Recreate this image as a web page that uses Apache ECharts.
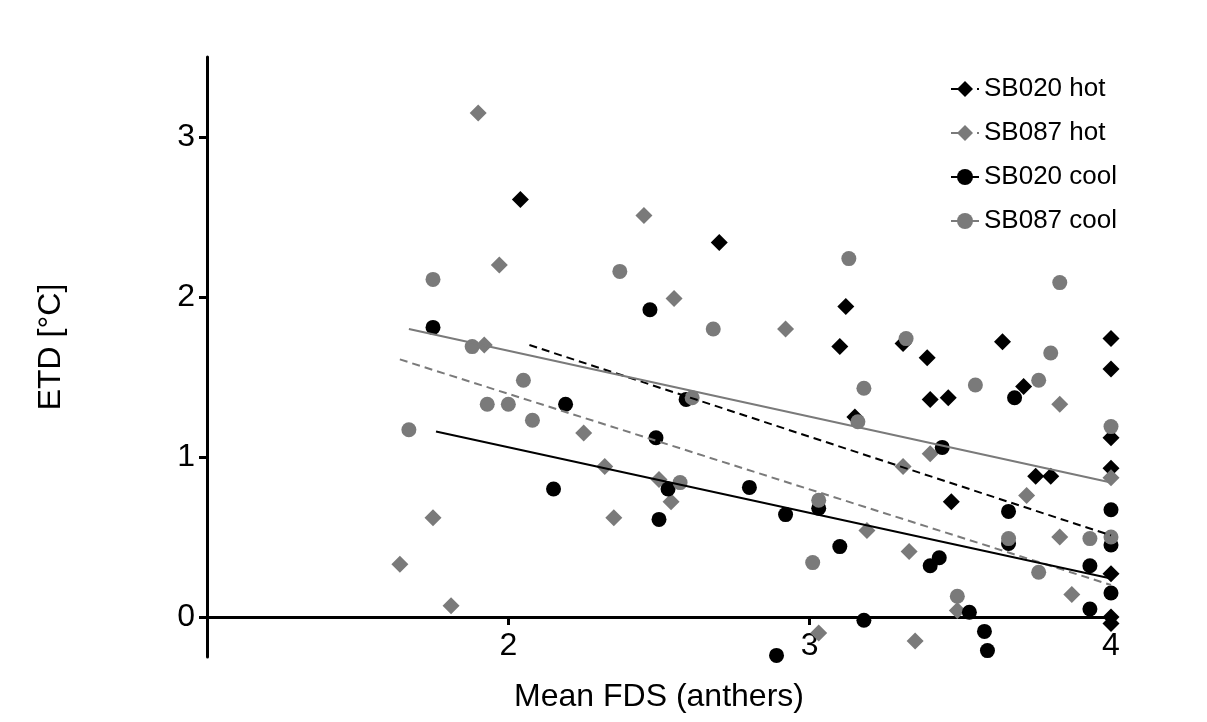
<!DOCTYPE html>
<html>
<head>
<meta charset="utf-8">
<title>ETD vs Mean FDS</title>
<style type="text/css">
    html, body { margin: 0; padding: 0; background: #fff; }
    #main { width: 1207px; height: 722px; }
</style>
</head>
<body>
<div id="main"></div>
<script src="https://cdn.jsdelivr.net/npm/echarts@6/dist/echarts.min.js"></script>
<script>
    // points: [Mean FDS, ETD]
    var sb020Hot = [
        [2.04, 2.61], [2.70, 2.34], [3.12, 1.94], [3.10, 1.69], [3.15, 1.25],
        [3.31, 1.71], [3.39, 1.62], [3.40, 1.36], [3.46, 1.37], [3.47, 0.72],
        [3.64, 1.72], [3.71, 1.44], [3.75, 0.88], [3.80, 0.88],
        [4, 1.74], [4, 1.55], [4, 1.12], [4, 0.93], [4, 0.27], [4, 0.0], [4, -0.04]
    ];
    var sb087Hot = [
        [1.90, 3.15], [1.97, 2.20], [2.45, 2.51], [2.55, 1.99], [2.92, 1.80],
        [1.92, 1.70], [2.25, 1.15], [2.32, 0.94], [1.75, 0.62], [2.35, 0.62],
        [1.64, 0.33], [1.81, 0.07], [2.50, 0.86], [2.54, 0.72], [3.19, 0.54],
        [3.03, -0.10], [3.31, 0.94], [3.40, 1.02], [3.33, 0.41], [3.35, -0.15],
        [3.49, 0.04], [3.72, 0.76], [3.83, 1.33], [3.83, 0.50], [3.87, 0.14], [4, 0.87]
    ];
    var sb020Cool = [
        [1.75, 1.81], [2.19, 1.33], [2.15, 0.80], [2.47, 1.92], [2.49, 1.12],
        [2.50, 0.61], [2.53, 0.80], [2.59, 1.36], [2.80, 0.81], [2.92, 0.64],
        [3.03, 0.68], [3.10, 0.44], [3.18, -0.02], [2.89, -0.24], [3.44, 1.06],
        [3.40, 0.32], [3.43, 0.37], [3.53, 0.03], [3.58, -0.09], [3.59, -0.21],
        [3.66, 0.66], [3.66, 0.46], [3.68, 1.37], [3.93, 0.32], [3.93, 0.05],
        [4, 0.67], [4, 0.45], [4, 0.15]
    ];
    var sb087Cool = [
        [1.67, 1.17], [1.75, 2.11], [1.88, 1.69], [1.93, 1.33], [2.00, 1.33],
        [2.05, 1.48], [2.08, 1.23], [2.37, 2.16], [2.57, 0.84], [2.61, 1.37],
        [2.68, 1.80], [3.01, 0.34], [3.03, 0.73], [3.13, 2.24], [3.16, 1.22],
        [3.18, 1.43], [3.32, 1.74], [3.49, 0.13], [3.55, 1.45], [3.66, 0.49],
        [3.76, 1.48], [3.76, 0.28], [3.80, 1.65], [3.83, 2.09], [3.93, 0.49],
        [4, 1.19], [4, 0.50]
    ];

    // fitted lines, start and end
    var fit020Hot = [[2.07, 1.70], [4, 0.51]];
    var fit087Hot = [[1.64, 1.61], [4, 0.20]];
    var fit020Cool = [[1.76, 1.16], [4, 0.24]];
    var fit087Cool = [[1.67, 1.80], [4, 0.84]];

    var names = ['SB020 hot', 'SB087 hot', 'SB020 cool', 'SB087 cool'];
    var xTicks = [2, 3, 4];
    var yTicks = [0, 1, 2, 3];

    var black = '#000000';
    var grey = '#7a7a7a';

    function fitLine(name, data, color, type, symbol) {
        return {
            name: name,
            type: 'line',
            data: data,
            symbol: symbol,
            showSymbol: false,
            silent: true,
            itemStyle: { color: color },
            lineStyle: { color: color, width: 2, type: type }
        };
    }

    function points(name, data, color, symbol, size) {
        return {
            name: name,
            type: 'scatter',
            data: data,
            symbol: symbol,
            symbolSize: size,
            itemStyle: { color: color, opacity: 1 }
        };
    }

    var myChart = echarts.init(document.getElementById('main'));
    var option = {
        animation: false,
        textStyle: { fontFamily: 'Liberation Sans, Arial, sans-serif', color: '#000' },
        grid: { left: 207, right: 96, top: 57, bottom: 65, containLabel: false, outerBoundsMode: 'none' },
        legend: {
            data: names,
            orient: 'vertical',
            left: 945,
            top: 71,
            itemWidth: 28,
            itemHeight: 20,
            itemGap: 18,
            textStyle: { fontSize: 26, color: '#000', fontFamily: 'Liberation Sans, Arial, sans-serif' }
        },
        xAxis: {
            type: 'value',
            min: 1,
            max: 4,
            name: 'Mean FDS (anthers)',
            nameLocation: 'middle',
            nameGap: 24,
            nameTextStyle: { fontSize: 32, color: '#000' },
            splitLine: { show: false },
            axisLine: { onZero: true, lineStyle: { color: '#000', width: 3 } },
            axisTick: { customValues: xTicks, length: 8, lineStyle: { color: '#000', width: 3 } },
            // labels stay at the grid bottom, pull them up under the zero line
            axisLabel: { customValues: xTicks, fontSize: 32, color: '#000', margin: -27 }
        },
        yAxis: {
            type: 'value',
            min: -0.25,
            max: 3.5,
            name: 'ETD [°C]',
            nameLocation: 'middle',
            nameGap: 140,
            nameTextStyle: { fontSize: 32, color: '#000', padding: [0, 0, 0, 20] },
            splitLine: { show: false },
            axisLine: { show: true, lineStyle: { color: '#000', width: 3 } },
            axisTick: { show: true, customValues: yTicks, length: 8, lineStyle: { color: '#000', width: 3 } },
            axisLabel: { customValues: yTicks, fontSize: 32, color: '#000', margin: 12 }
        },
        series: [
            fitLine(names[0], fit020Hot, black, [8, 5], 'diamond'),
            fitLine(names[1], fit087Hot, grey, [8, 5], 'diamond'),
            fitLine(names[2], fit020Cool, black, 'solid', 'circle'),
            fitLine(names[3], fit087Cool, grey, 'solid', 'circle'),
            points(names[0], sb020Hot, black, 'diamond', 17),
            points(names[1], sb087Hot, grey, 'diamond', 17),
            points(names[2], sb020Cool, black, 'circle', 15),
            points(names[3], sb087Cool, grey, 'circle', 15)
        ]
    };
    myChart.setOption(option);
</script>
</body>
</html>
